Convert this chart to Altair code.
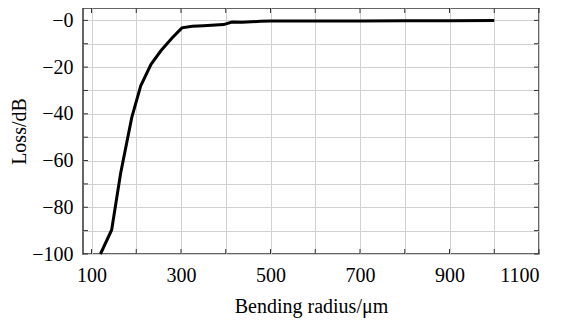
import altair as alt
import pandas as pd

radius = [120, 145, 165, 190, 210, 233, 255, 280, 302, 325, 350, 395, 414, 437, 477, 500, 600, 700, 800, 900, 1000]
loss = [-100, -89.7, -65.5, -41.5, -28, -18.8, -13, -7.5, -3.2, -2.5, -2.3, -1.8, -0.7, -0.8, -0.4, -0.3, -0.3, -0.25, -0.2, -0.15, -0.1]

x_ticks = list(range(100, 1101, 100))
y_ticks = list(range(-100, 1, 10))

W, H = 456, 246
XD = [81, 1100]
YD = [-100, 5.3]

df = pd.DataFrame({"r": radius, "loss": loss})
xs = alt.Scale(domain=XD, nice=False, zero=False)
ys = alt.Scale(domain=YD, nice=False, zero=False)

FONT = "Liberation Serif"
FS = 20

common = dict(labelFont=FONT, titleFont=FONT, labelFontSize=FS, titleFontSize=FS,
              labelColor="black", titleColor="black", titleFontWeight="normal",
              grid=True, gridColor="#d0d0d0", gridWidth=1, ticks=False, domain=False)

x_axis = alt.Axis(values=x_ticks, title="Bending radius/μm", format="d",
                  labelExpr="datum.value % 200 == 100 ? datum.label : ''",
                  labelPadding=11, titlePadding=11, **common)
y_axis = alt.Axis(values=y_ticks, title="Loss/dB", format="d",
                  labelExpr="datum.value % 20 == 0 ? (datum.value == 0 ? '−0' : datum.label) : ''",
                  labelPadding=10, titlePadding=2, **common)

line = alt.Chart(df).mark_line(color="black", strokeWidth=3).encode(
    x=alt.X("r:Q", scale=xs, axis=x_axis),
    y=alt.Y("loss:Q", scale=ys, axis=y_axis),
)

xt = pd.DataFrame({"r": x_ticks})
yt = pd.DataFrame({"loss": y_ticks})
tick_len = 5
top_ticks = alt.Chart(xt).mark_rule(color="#333", strokeWidth=1).encode(
    x=alt.X("r:Q", scale=xs, axis=x_axis), y=alt.value(0), y2=alt.value(tick_len))
bot_ticks = alt.Chart(xt).mark_rule(color="#333", strokeWidth=1).encode(
    x=alt.X("r:Q", scale=xs, axis=x_axis), y=alt.value(H), y2=alt.value(H - tick_len))
left_ticks = alt.Chart(yt).mark_rule(color="#333", strokeWidth=1).encode(
    y=alt.Y("loss:Q", scale=ys, axis=y_axis), x=alt.value(0), x2=alt.value(tick_len))
right_ticks = alt.Chart(yt).mark_rule(color="#333", strokeWidth=1).encode(
    y=alt.Y("loss:Q", scale=ys, axis=y_axis), x=alt.value(W), x2=alt.value(W - tick_len))

chart = alt.layer(line, top_ticks, bot_ticks, left_ticks, right_ticks).properties(
    width=W, height=H,
    autosize=alt.AutoSizeParams(type="none"),
    padding={"left": 75, "top": 0, "right": 20, "bottom": 66},
    background="white",
).configure(font=FONT).configure_view(stroke="#333", strokeWidth=1.5)

chart.save("out.html", embed_options={"renderer": "svg", "actions": False})
